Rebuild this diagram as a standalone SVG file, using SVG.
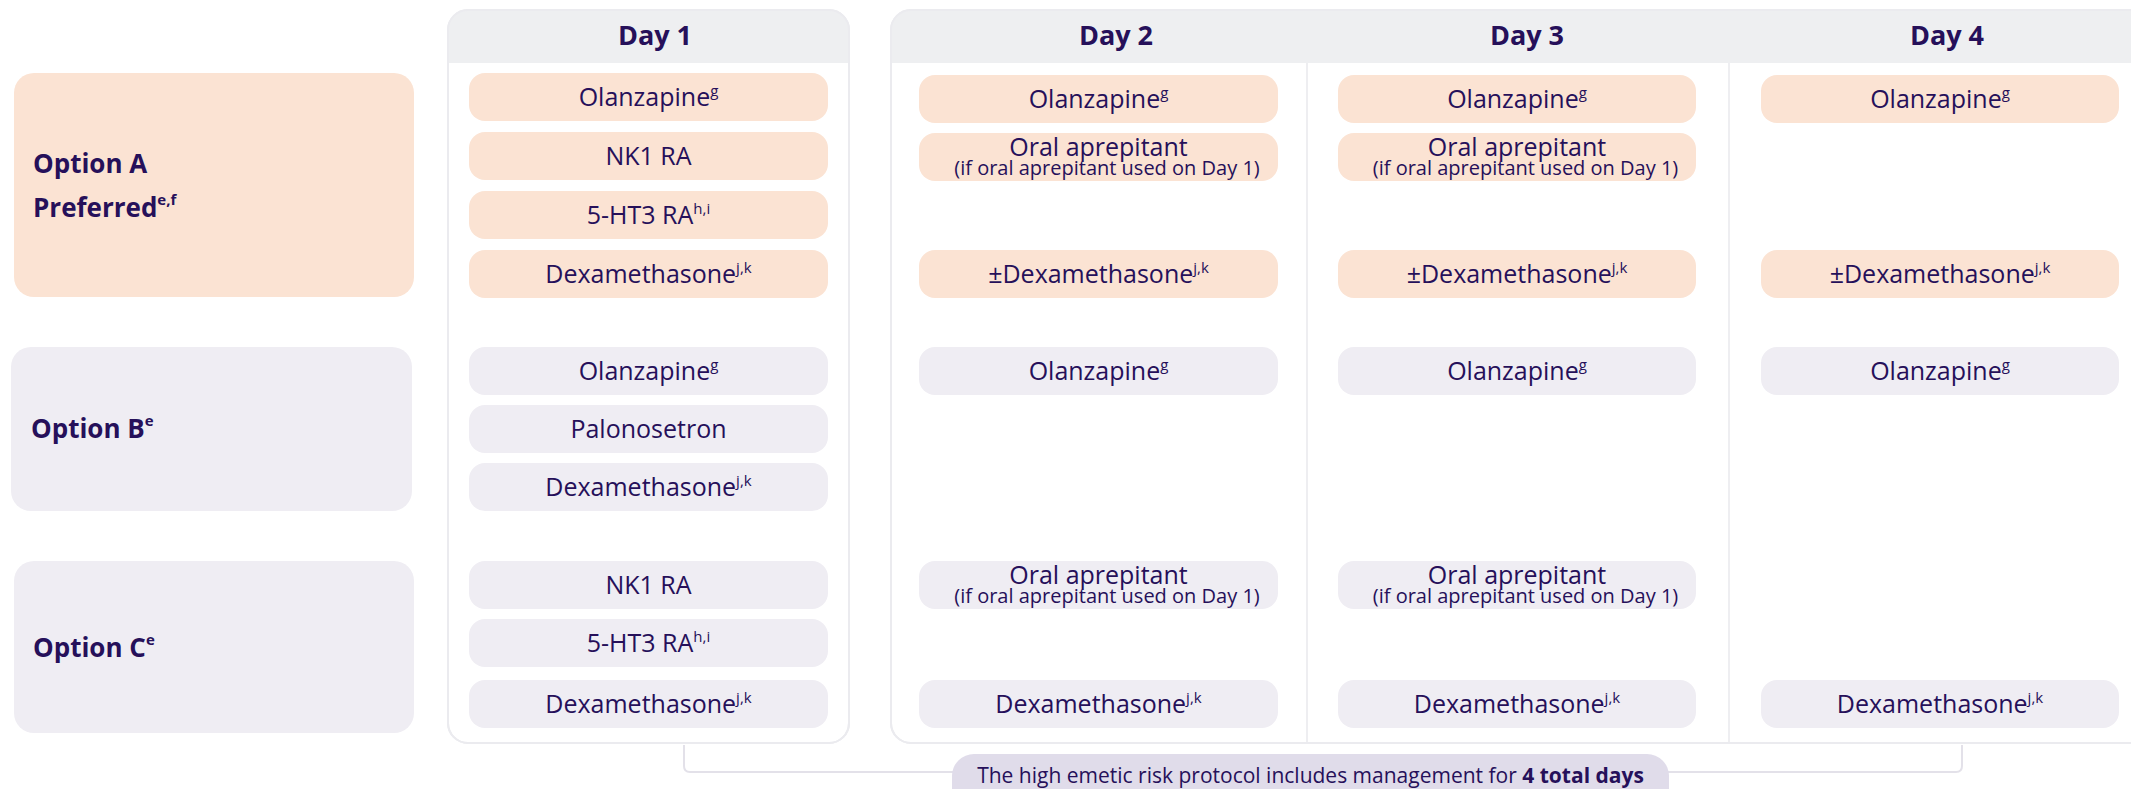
<svg xmlns="http://www.w3.org/2000/svg" width="2131" height="789" viewBox="0 0 2131 789">
<style>
.po{fill:#fbe3d3}
.pg{fill:#efedf3}
.t{font-family:"Open Sans","Noto Sans",sans-serif;fill:#26105a;font-size:25px;text-anchor:middle}
.sup{font-size:15px}
.sub{font-size:20px}
.h{font-family:"Open Sans","Noto Sans",sans-serif;fill:#26105a;font-weight:700;font-size:27px;text-anchor:middle}
.opt{font-family:"Open Sans","Noto Sans",sans-serif;fill:#26105a;font-weight:700;font-size:26px}
.osup{font-size:15px}
.panel{fill:#ffffff;stroke:#ebebef;stroke-width:2}
.hdr{fill:#eeeff1}
.div{stroke:#eeeef1;stroke-width:2;fill:none}
.conn{stroke:#e3e1e9;stroke-width:2;fill:none}
</style>
<defs>
<clipPath id="c1"><rect x="448" y="10" width="401" height="733" rx="20"/></clipPath>
<clipPath id="c2"><rect x="891" y="10" width="1300" height="733" rx="20"/></clipPath>
</defs>

<g id="connectors">
<path class="conn" d="M684,745 V766 Q684,772 690,772 H1956 Q1962,772 1962,766 V745"/>
</g>

<g id="panel-day1">
<rect class="panel" x="448" y="10" width="401" height="733" rx="20"/>
<rect class="hdr" x="448" y="10" width="401" height="53" clip-path="url(#c1)"/>
<rect x="448" y="10" width="401" height="733" rx="20" fill="none" stroke="#ebebef" stroke-width="2"/>
<text class="h" x="655" y="45">Day 1</text>
</g>

<g id="panel-days234">
<rect class="panel" x="891" y="10" width="1300" height="733" rx="20"/>
<rect class="hdr" x="891" y="10" width="1300" height="53" clip-path="url(#c2)"/>
<rect x="891" y="10" width="1300" height="733" rx="20" fill="none" stroke="#ebebef" stroke-width="2"/>
<line class="div" x1="1307" y1="63" x2="1307" y2="742"/>
<line class="div" x1="1729" y1="63" x2="1729" y2="742"/>
<text class="h" x="1116" y="45">Day 2</text>
<text class="h" x="1527" y="45">Day 3</text>
<text class="h" x="1947" y="45">Day 4</text>
</g>

<g id="option-a">
<rect class="po" x="14" y="73" width="400" height="224" rx="20"/>
<text class="opt" x="33" y="173">Option A</text>
<text class="opt" x="33" y="217">Preferred<tspan class="osup" dy="-12">e,f</tspan></text>
</g>
<g id="option-b">
<rect class="pg" x="11" y="347" width="401" height="164" rx="20"/>
<text class="opt" x="31" y="438">Option B<tspan class="osup" dy="-12">e</tspan></text>
</g>
<g id="option-c">
<rect class="pg" x="14" y="561" width="400" height="172" rx="20"/>
<text class="opt" x="33" y="657">Option C<tspan class="osup" dy="-12">e</tspan></text>
</g>

<!-- Option A, Day 1 -->
<g id="a-d1-olanzapine"><rect class="po" x="469" y="73" width="359" height="48" rx="16"/><text class="t" x="648.5" y="106">Olanzapine<tspan class="sup" dy="-10">g</tspan></text></g>
<g id="a-d1-nk1"><rect class="po" x="469" y="132" width="359" height="48" rx="16"/><text class="t" x="648.5" y="165">NK1 RA</text></g>
<g id="a-d1-5ht3"><rect class="po" x="469" y="191" width="359" height="48" rx="16"/><text class="t" x="648.5" y="224">5-HT3 RA<tspan class="sup" dy="-10">h,i</tspan></text></g>
<g id="a-d1-dex"><rect class="po" x="469" y="250" width="359" height="48" rx="16"/><text class="t" x="648.5" y="283">Dexamethasone<tspan class="sup" dy="-10">j,k</tspan></text></g>

<!-- Option A, Day 2 -->
<g id="a-d2-olanzapine"><rect class="po" x="919" y="75" width="359" height="48" rx="16"/><text class="t" x="1098.5" y="108">Olanzapine<tspan class="sup" dy="-10">g</tspan></text></g>
<g id="a-d2-aprepitant"><rect class="po" x="919" y="133" width="359" height="48" rx="16"/><text class="t" x="1098.5" y="156">Oral aprepitant</text><text class="t sub" x="1107" y="175">(if oral aprepitant used on Day 1)</text></g>
<g id="a-d2-dex"><rect class="po" x="919" y="250" width="359" height="48" rx="16"/><text class="t" x="1098.5" y="283">±Dexamethasone<tspan class="sup" dy="-10">j,k</tspan></text></g>

<!-- Option A, Day 3 -->
<g id="a-d3-olanzapine"><rect class="po" x="1338" y="75" width="358" height="48" rx="16"/><text class="t" x="1517" y="108">Olanzapine<tspan class="sup" dy="-10">g</tspan></text></g>
<g id="a-d3-aprepitant"><rect class="po" x="1338" y="133" width="358" height="48" rx="16"/><text class="t" x="1517" y="156">Oral aprepitant</text><text class="t sub" x="1525.5" y="175">(if oral aprepitant used on Day 1)</text></g>
<g id="a-d3-dex"><rect class="po" x="1338" y="250" width="358" height="48" rx="16"/><text class="t" x="1517" y="283">±Dexamethasone<tspan class="sup" dy="-10">j,k</tspan></text></g>

<!-- Option A, Day 4 -->
<g id="a-d4-olanzapine"><rect class="po" x="1761" y="75" width="358" height="48" rx="16"/><text class="t" x="1940" y="108">Olanzapine<tspan class="sup" dy="-10">g</tspan></text></g>
<g id="a-d4-dex"><rect class="po" x="1761" y="250" width="358" height="48" rx="16"/><text class="t" x="1940" y="283">±Dexamethasone<tspan class="sup" dy="-10">j,k</tspan></text></g>

<!-- Option B, Day 1 -->
<g id="b-d1-olanzapine"><rect class="pg" x="469" y="347" width="359" height="48" rx="16"/><text class="t" x="648.5" y="380">Olanzapine<tspan class="sup" dy="-10">g</tspan></text></g>
<g id="b-d1-palonosetron"><rect class="pg" x="469" y="405" width="359" height="48" rx="16"/><text class="t" x="648.5" y="438">Palonosetron</text></g>
<g id="b-d1-dex"><rect class="pg" x="469" y="463" width="359" height="48" rx="16"/><text class="t" x="648.5" y="496">Dexamethasone<tspan class="sup" dy="-10">j,k</tspan></text></g>

<!-- Option B, Days 2-4 -->
<g id="b-d2-olanzapine"><rect class="pg" x="919" y="347" width="359" height="48" rx="16"/><text class="t" x="1098.5" y="380">Olanzapine<tspan class="sup" dy="-10">g</tspan></text></g>
<g id="b-d3-olanzapine"><rect class="pg" x="1338" y="347" width="358" height="48" rx="16"/><text class="t" x="1517" y="380">Olanzapine<tspan class="sup" dy="-10">g</tspan></text></g>
<g id="b-d4-olanzapine"><rect class="pg" x="1761" y="347" width="358" height="48" rx="16"/><text class="t" x="1940" y="380">Olanzapine<tspan class="sup" dy="-10">g</tspan></text></g>

<!-- Option C, Day 1 -->
<g id="c-d1-nk1"><rect class="pg" x="469" y="561" width="359" height="48" rx="16"/><text class="t" x="648.5" y="594">NK1 RA</text></g>
<g id="c-d1-5ht3"><rect class="pg" x="469" y="619" width="359" height="48" rx="16"/><text class="t" x="648.5" y="652">5-HT3 RA<tspan class="sup" dy="-10">h,i</tspan></text></g>
<g id="c-d1-dex"><rect class="pg" x="469" y="680" width="359" height="48" rx="16"/><text class="t" x="648.5" y="713">Dexamethasone<tspan class="sup" dy="-10">j,k</tspan></text></g>

<!-- Option C, Days 2-4 -->
<g id="c-d2-aprepitant"><rect class="pg" x="919" y="561" width="359" height="48" rx="16"/><text class="t" x="1098.5" y="584">Oral aprepitant</text><text class="t sub" x="1107" y="603">(if oral aprepitant used on Day 1)</text></g>
<g id="c-d2-dex"><rect class="pg" x="919" y="680" width="359" height="48" rx="16"/><text class="t" x="1098.5" y="713">Dexamethasone<tspan class="sup" dy="-10">j,k</tspan></text></g>
<g id="c-d3-aprepitant"><rect class="pg" x="1338" y="561" width="358" height="48" rx="16"/><text class="t" x="1517" y="584">Oral aprepitant</text><text class="t sub" x="1525.5" y="603">(if oral aprepitant used on Day 1)</text></g>
<g id="c-d3-dex"><rect class="pg" x="1338" y="680" width="358" height="48" rx="16"/><text class="t" x="1517" y="713">Dexamethasone<tspan class="sup" dy="-10">j,k</tspan></text></g>
<g id="c-d4-dex"><rect class="pg" x="1761" y="680" width="358" height="48" rx="16"/><text class="t" x="1940" y="713">Dexamethasone<tspan class="sup" dy="-10">j,k</tspan></text></g>

<g id="note">
<rect x="952" y="754" width="717" height="64" rx="22" fill="#e0dcea"/>
<text class="t" x="1310.5" y="783" style="font-size:21px">The high emetic risk protocol includes management for <tspan font-weight="700">4 total days</tspan></text>
</g>
</svg>
